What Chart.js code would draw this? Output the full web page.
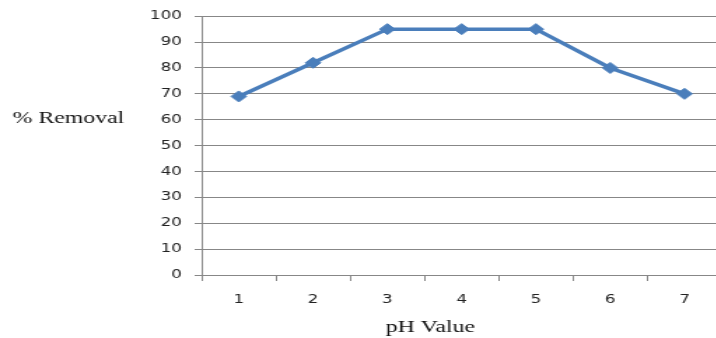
<!DOCTYPE html>
<html>
<head>
<meta charset="utf-8">
<script src="https://cdn.jsdelivr.net/npm/chart.js@4/dist/chart.umd.min.js"></script>
<style>
  html, body { margin: 0; padding: 0; background: #fff; overflow: hidden; width: 716px; height: 338px; }
  /* the chart is drawn narrow and widened horizontally */
  #wrap { width: 522px; height: 338px; transform: scaleX(1.4); transform-origin: 0 0; }
  canvas { display: block; }
</style>
</head>
<body>
<div id="wrap"><canvas id="c" width="522" height="338"></canvas></div>
<script>
// pH study: percentage removal at each pH value
const phValues = ['1', '2', '3', '4', '5', '6', '7'];
const removalPercent = [69, 82, 95, 95, 95, 80, 70];
const yTicks = [0, 10, 20, 30, 40, 50, 60, 70, 80, 90, 100];

const yTitle = '% Removal';
const xTitle = 'pH Value';

const gridGrey = '#878787';
const lineBlue = '#4a7ebb';
const tickFont = { family: '"DejaVu Sans", Verdana, sans-serif', size: 12 };

const axisTitles = {
  id: 'axisTitles',
  afterDraw(chart) {
    const { ctx, chartArea } = chart;
    ctx.save();
    ctx.fillStyle = '#111';
    ctx.font = '17px "Liberation Serif", "Times New Roman", serif';
    ctx.textBaseline = 'alphabetic';
    ctx.textAlign = 'left';
    ctx.fillText(yTitle, 9, 123);
    ctx.textAlign = 'center';
    ctx.fillText(xTitle, chartArea.left + (chartArea.right - chartArea.left) * 0.44, 332);
    ctx.restore();
  }
};

new Chart(document.getElementById('c'), {
  type: 'line',
  data: {
    labels: phValues,
    datasets: [{
      data: removalPercent,
      borderColor: lineBlue,
      backgroundColor: lineBlue,
      borderWidth: 3.5,
      pointStyle: 'rectRot',
      pointRadius: 5.5,
      pointBorderWidth: 1,
      pointBackgroundColor: lineBlue,
      pointBorderColor: lineBlue,
      tension: 0,
      fill: false
    }]
  },
  options: {
    responsive: false,
    animation: false,
    events: [],
    layout: { padding: { top: 16, right: 2, left: 0, bottom: 0 } },
    plugins: { legend: { display: false }, tooltip: { enabled: false } },
    scales: {
      x: {
        type: 'category',
        offset: true,
        grid: { offset: true, drawOnChartArea: false, drawTicks: true, tickLength: 6, color: gridGrey, lineWidth: 1 },
        border: { display: true, color: gridGrey, width: 1 },
        ticks: { color: '#222', font: tickFont, padding: 12, maxRotation: 0 },
        afterFit(scale) { scale.height = 63; }
      },
      y: {
        min: 0,
        max: 100,
        afterBuildTicks(scale) { scale.ticks = yTicks.map(v => ({ value: v })); },
        grid: { drawTicks: true, tickLength: 5, color: gridGrey, lineWidth: 1 },
        border: { display: true, color: gridGrey, width: 1 },
        ticks: { color: '#222', font: tickFont, padding: 9 },
        afterFit(scale) { scale.width = 144; }
      }
    }
  },
  plugins: [axisTitles]
});
</script>
</body>
</html>
